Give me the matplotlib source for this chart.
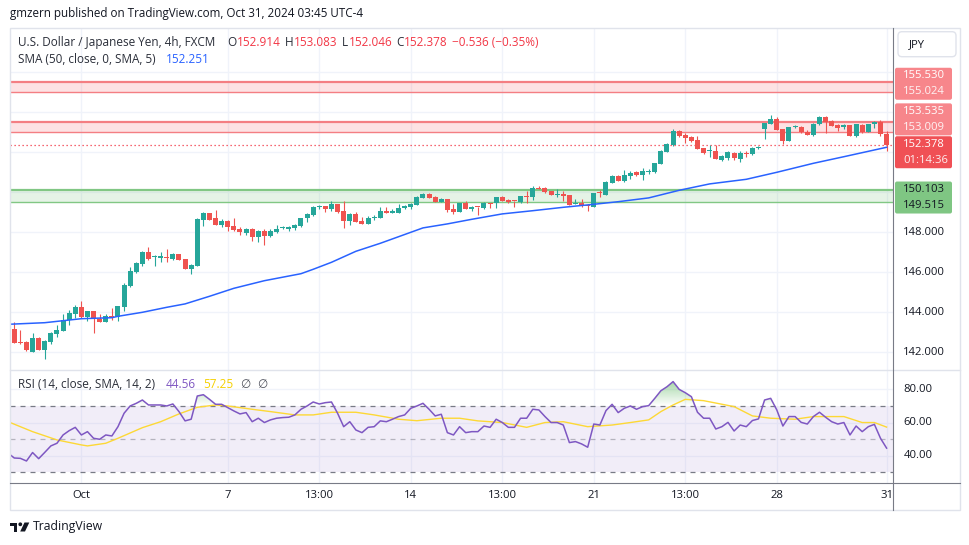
import numpy as np
import matplotlib
matplotlib.use('Agg')
import matplotlib.pyplot as plt
from matplotlib.transforms import Affine2D
from matplotlib.patches import Rectangle, FancyBboxPatch, Polygon, Circle
from matplotlib.path import Path
from matplotlib.lines import Line2D
from matplotlib.colors import LinearSegmentedColormap

plt.rcParams['font.family'] = ['Open Sans', 'DejaVu Sans']

# ---------------- data (4h candles, USD/JPY) ----------------
opens = [145.8, 143.17, 142.53, 142.52, 142.03, 142.72, 142.13, 142.53, 142.93, 143.08,
         143.60, 143.92, 144.27, 143.78, 144.07, 143.67, 143.52, 143.82, 143.75, 144.27,
         145.32, 146.03, 146.43, 147.02, 146.75, 146.74, 146.77, 146.67, 146.90, 146.67,
         146.18, 146.33, 148.63, 148.97, 148.72, 148.38, 148.57, 148.32, 148.18, 147.98,
         148.17, 147.78, 148.07, 147.82, 148.03, 148.20, 148.19, 148.20, 148.33, 148.70,
         148.88, 149.25, 149.32, 149.15, 149.42, 149.07, 148.58, 148.92, 148.57, 148.43,
         148.73, 148.73, 149.07, 148.98, 148.98, 149.20, 149.27, 149.38, 149.73, 149.92,
         149.77, 149.52, 149.67, 149.18, 149.03, 149.47, 149.18, 149.27, 149.22, 149.47,
         149.45, 149.77, 149.62, 149.57, 149.50, 149.80, 149.78, 150.22, 150.20, 150.07,
         149.88, 149.92, 149.87, 149.43, 149.47, 149.37, 149.28, 150.00, 149.88, 150.48,
         150.82, 150.58, 150.83, 151.00, 150.88, 151.03, 151.00, 151.43, 152.03, 152.37,
         153.07, 152.87, 152.77, 152.62, 152.20, 152.05, 152.07, 151.63, 151.72, 151.98,
         151.67, 151.93, 151.90, 152.20, 153.17, 153.42, 153.67, 153.17, 152.58, 153.28,
         153.25, 153.00, 152.88, 153.40, 153.77, 153.58, 153.37, 153.25, 153.37, 152.82,
         153.37, 153.02, 153.42, 153.50, 152.914]
highs = [146.5, 143.53, 143.12, 142.57, 142.95, 142.77, 142.62, 143.02, 143.37, 143.92,
         144.12, 144.38, 144.57, 144.07, 144.07, 143.92, 143.90, 144.20, 144.32, 145.47,
         146.28, 146.53, 147.07, 147.25, 146.88, 147.00, 147.17, 146.97, 146.92, 146.68,
         146.42, 148.73, 149.03, 148.98, 149.12, 148.67, 148.63, 148.72, 148.25, 148.23,
         148.20, 148.13, 148.17, 148.15, 148.35, 148.32, 148.32, 148.42, 148.73, 148.95,
         149.32, 149.38, 149.32, 149.58, 149.42, 149.57, 148.95, 149.00, 148.75, 148.82,
         148.87, 149.27, 149.25, 149.17, 149.40, 149.37, 149.47, 149.82, 149.95, 149.97,
         149.80, 149.73, 149.67, 149.40, 149.48, 149.57, 149.32, 149.28, 149.50, 149.47,
         149.77, 149.80, 149.67, 149.57, 149.83, 150.05, 150.33, 150.32, 150.27, 150.08,
         150.15, 150.08, 149.88, 149.65, 149.67, 149.43, 149.98, 150.13, 150.55, 150.88,
         150.88, 151.12, 151.08, 151.05, 151.22, 151.17, 151.48, 152.10, 152.48, 153.17,
         153.12, 152.95, 152.80, 152.82, 152.23, 152.35, 152.35, 151.87, 152.05, 152.02,
         152.07, 152.07, 152.25, 152.32, 153.48, 153.85, 153.75, 153.17, 153.28, 153.37,
         153.32, 153.13, 153.47, 153.83, 153.80, 153.63, 153.40, 153.40, 153.38, 153.42,
         153.42, 153.43, 153.58, 153.62, 153.083]
lows = [143.0, 142.45, 142.43, 142.08, 142.02, 142.12, 141.68, 142.43, 142.78, 143.07,
        143.37, 143.70, 143.73, 143.58, 142.98, 143.52, 143.50, 143.60, 143.58, 144.08,
        145.28, 145.97, 146.33, 146.62, 146.32, 146.52, 146.50, 146.63, 146.60, 146.15,
        145.93, 146.32, 148.33, 148.60, 148.37, 148.25, 148.08, 148.08, 147.88, 147.88,
        147.57, 147.52, 147.37, 147.75, 147.98, 148.15, 148.05, 148.10, 148.27, 148.53,
        148.83, 149.18, 149.03, 149.07, 148.95, 148.23, 148.37, 148.50, 148.42, 148.42,
        148.63, 148.72, 148.97, 148.97, 148.97, 149.18, 149.17, 149.37, 149.72, 149.72,
        149.50, 149.50, 149.02, 148.90, 149.00, 149.17, 149.07, 148.87, 149.18, 149.20,
        149.23, 149.57, 149.45, 149.28, 149.48, 149.48, 149.62, 150.15, 149.97, 149.85,
        149.77, 149.57, 149.35, 149.43, 149.27, 149.07, 149.25, 149.77, 149.85, 150.45,
        150.57, 150.52, 150.68, 150.83, 150.63, 150.92, 150.98, 151.42, 152.02, 152.33,
        152.78, 152.47, 152.53, 152.15, 151.92, 151.77, 151.65, 151.58, 151.63, 151.63,
        151.50, 151.75, 151.87, 152.17, 152.68, 153.40, 153.12, 152.43, 152.55, 153.20,
        152.97, 152.87, 152.83, 153.38, 152.98, 153.32, 153.08, 153.15, 152.80, 152.78,
        152.98, 153.00, 153.20, 152.83, 152.046]
closes = [143.1, 142.48, 142.48, 142.12, 142.72, 142.13, 142.57, 142.97, 143.12, 143.62,
          143.97, 144.27, 143.78, 144.07, 143.65, 143.53, 143.82, 143.75, 144.30, 145.35,
          146.07, 146.45, 147.02, 146.67, 146.78, 146.76, 146.70, 146.90, 146.62, 146.18,
          146.37, 148.68, 148.97, 148.63, 148.38, 148.57, 148.28, 148.13, 148.00, 148.18,
          147.78, 148.07, 147.82, 148.07, 148.18, 148.22, 148.21, 148.37, 148.72, 148.92,
          149.27, 149.33, 149.18, 149.42, 149.03, 148.58, 148.90, 148.53, 148.43, 148.72,
          148.75, 149.07, 148.98, 149.07, 149.23, 149.33, 149.43, 149.77, 149.92, 149.73,
          149.52, 149.67, 149.13, 149.03, 149.47, 149.18, 149.27, 149.25, 149.48, 149.40,
          149.77, 149.58, 149.52, 149.55, 149.80, 149.78, 150.22, 150.17, 150.03, 149.87,
          149.90, 149.83, 149.37, 149.48, 149.33, 149.30, 149.97, 149.98, 150.52, 150.82,
          150.58, 150.87, 150.98, 150.88, 151.07, 151.05, 151.47, 152.07, 152.42, 153.07,
          152.82, 152.72, 152.57, 152.18, 151.98, 152.08, 151.65, 151.82, 152.02, 151.73,
          151.98, 151.90, 152.20, 152.23, 153.48, 153.67, 153.13, 152.57, 153.25, 153.30,
          153.00, 152.88, 153.43, 153.77, 153.50, 153.33, 153.23, 153.37, 152.83, 153.40,
          153.00, 153.42, 153.52, 152.914, 152.378]

sma_idx = [0, 6, 12, 17, 18, 22, 26, 29, 33, 37, 42, 48, 50, 53, 57, 61, 64, 68, 72, 76,
           81, 86, 91, 96, 100, 105, 110, 115, 121, 126, 132, 137, 144]
sma_val = [143.40, 143.48, 143.68, 143.73, 143.80, 144.00, 144.25, 144.42, 144.80, 145.20,
           145.58, 145.93, 146.15, 146.50, 147.05, 147.45, 147.78, 148.22, 148.42, 148.65,
           148.92, 149.08, 149.25, 149.40, 149.53, 149.72, 150.10, 150.42, 150.65, 151.00,
           151.45, 151.78, 152.251]

rsi = [41.5, 38.6, 38.4, 36.8, 41.9, 38.2, 42.0, 45.9, 47.5, 52.5,
       55.1, 57.1, 52.5, 54.5, 50.5, 49.9, 52.5, 51.9, 57.5, 65.6,
       70.0, 71.6, 73.6, 70.6, 70.6, 70.6, 70.0, 71.2, 66.6, 61.0,
       62.0, 76.0, 76.8, 74.0, 71.0, 71.0, 69.0, 67.0, 65.2, 66.0,
       60.5, 62.6, 60.0, 61.6, 62.6, 63.0, 63.2, 64.6, 68.0, 70.0,
       72.4, 71.2, 72.0, 72.4, 65.6, 57.5, 60.5, 55.5, 53.9, 57.1,
       57.5, 61.0, 60.5, 62.0, 63.6, 64.6, 68.6, 70.0, 71.6, 68.0,
       64.0, 65.0, 53.9, 52.5, 57.5, 53.9, 54.5, 54.5, 57.9, 57.1,
       62.0, 60.0, 57.1, 57.1, 62.6, 62.6, 68.0, 67.6, 63.6, 60.0,
       60.0, 58.5, 47.9, 48.5, 47.1, 45.1, 59.1, 58.5, 67.2, 71.0,
       66.0, 68.6, 70.0, 68.0, 69.6, 70.2, 74.6, 79.2, 81.6, 84.7,
       80.0, 78.0, 75.6, 66.2, 62.6, 62.6, 56.1, 57.5, 60.1, 54.9,
       58.5, 57.5, 61.2, 62.2, 73.6, 74.6, 67.6, 57.9, 63.6, 63.6,
       60.1, 59.1, 63.6, 66.2, 63.2, 60.5, 59.1, 60.0, 52.5, 57.9,
       54.5, 57.5, 58.9, 50.5, 44.56]

rsi_ma_idx = [0, 4, 8, 12, 13, 16, 18, 22, 25, 28, 31, 34, 36, 40, 43, 47, 50, 53, 57, 60,
              64, 67, 71, 74, 77, 81, 85, 88, 91, 95, 99, 102, 105, 107, 109, 111, 114, 119,
              122, 125, 129, 132, 137, 140, 142, 144]
rsi_ma_val = [60.5, 54.5, 49.5, 46.5, 45.9, 47.5, 50.5, 56.9, 60.5, 65.2, 69.2, 70.6, 70.0,
              68.0, 66.6, 64.6, 64.6, 66.2, 66.2, 64.6, 62.0, 61.1, 62.6, 62.6, 61.0, 60.0,
              57.1, 60.0, 60.5, 57.5, 58.5, 60.0, 61.6, 66.6, 70.6, 74.0, 73.2, 69.6, 64.0,
              62.6, 62.0, 63.6, 63.6, 60.0, 60.0, 57.25]

red_zones = [(155.024, 155.530), (153.009, 153.535)]
green_zone = (149.515, 150.103)
last_price = 152.378
countdown = "01:14:36"
sma_last = 152.251
rsi_last = 44.56
rsi_ma_last = 57.25
time_tick_idx = [12, 36, 51, 66, 81, 96, 111, 126, 144]
time_tick_lbl = ['Oct', '7', '13:00', '14', '13:00', '21', '13:00', '28', '31']
price_ticks = [142, 144, 146, 148]
rsi_ticks = [80, 60, 40]

# ---------------- figure ----------------
W, H = 970, 545
fig = plt.figure(figsize=(W / 100, H / 100), dpi=100)
fig.patch.set_facecolor('white')
pix = Affine2D().scale(1 / W, -1 / H).translate(0, 1) + fig.transFigure
renderer = fig.canvas.get_renderer()

TXT = '#131722'
LEG = '#2a2e39'
GRID = '#f0f3fa'
UP, DN = '#26a69a', '#ef5350'

ax = fig.add_axes([10 / W, 1 - 370 / H, 883 / W, 342 / H])
axr = fig.add_axes([10 / W, 1 - 482.7 / H, 883 / W, 112.7 / H])

for a in (ax, axr):
    a.set_facecolor('none')
    for s in a.spines.values():
        s.set_visible(False)
    a.set_xticks(time_tick_idx)
    a.tick_params(length=0, labelbottom=False, labelleft=False)
    a.grid(True, color=GRID, lw=1)
    a.set_axisbelow(True)
ax.set_yticks(np.arange(142, 158, 2))
axr.set_yticks([40, 60, 80])

x = np.arange(len(opens))
o, h, l, c = (np.array(v) for v in (opens, highs, lows, closes))
cols = np.where(c >= o, UP, DN)

# zones
for lo, hi in red_zones:
    ax.axhspan(lo, hi, color='#f23645', alpha=0.14, lw=0, zorder=2)
    ax.axhline(hi, color='#f47e83', lw=1.6, zorder=2.2)
    ax.axhline(lo, color='#f47e83', lw=1.0, zorder=2.2)
ax.axhspan(green_zone[0], green_zone[1], color='#4caf50', alpha=0.14, lw=0, zorder=2)
ax.axhline(green_zone[1], color='#81c784', lw=1.6, zorder=2.2)
ax.axhline(green_zone[0], color='#81c784', lw=1.0, zorder=2.2)
ax.axhline(last_price, color='#f23645', lw=0.9, ls=(0, (1, 2.2)), zorder=2.3)

# candles
ax.vlines(x, l, h, colors=cols, lw=0.8, zorder=3)
ax.bar(x, np.maximum(np.abs(c - o), 0.05), bottom=np.minimum(o, c), width=0.82,
       color=cols, lw=0, zorder=4)
ax.plot(sma_idx, sma_val, color='#2962ff', lw=1.1, zorder=5)

ax.set_xlim(0.3, 145.05)
ax.set_ylim(141.115, 158.215)

# RSI pane
r = np.array(rsi)
axr.axhspan(30, 70, color='#7e57c2', alpha=0.1, lw=0, zorder=1)
axr.axhline(70, color='#787b86', lw=0.9, ls=(0, (4, 4)), zorder=2)
axr.axhline(50, color='#787b86', lw=0.9, ls=(0, (4, 4)), alpha=0.5, zorder=2)
axr.axhline(30, color='#787b86', lw=0.9, ls=(0, (4, 4)), zorder=2)
fb = axr.fill_between(x, r, 70, where=r > 70, interpolate=True, color='none', lw=0)
paths = fb.get_paths()
if paths:
    cp = Path.make_compound_path(*paths)
    grad = np.linspace(0, 1, 100).reshape(-1, 1)
    cmap = LinearSegmentedColormap.from_list(
        'g', [(0.30, 0.69, 0.31, 0.0), (0.30, 0.69, 0.31, 0.6)])
    im = axr.imshow(grad, extent=[0, len(r) - 1, 70, 88], origin='lower', aspect='auto',
                    cmap=cmap, zorder=3, interpolation='bilinear')
    im.set_clip_path(cp, transform=axr.transData)
axr.plot(rsi_ma_idx, rsi_ma_val, color='#fdd835', lw=1.0, zorder=4)
axr.plot(x, r, color='#7e57c2', lw=1.1, zorder=5)
axr.set_xlim(0.3, 145.05)
axr.set_ylim(23.7, 91.7)


# ---------------- helpers ----------------
def ypx(a, v):
    return H - a.transData.transform((0, v))[1]


def xpx(a, v):
    return a.transData.transform((v, 0))[0]


def fit(s, width, **kw):
    t = fig.text(0, 0, s, fontsize=10, transform=pix, **kw)
    w = t.get_window_extent(renderer).width
    t.remove()
    return 10 * width / w


def ftext(xp, yp, s, **kw):
    kw.setdefault('va', 'center')
    kw.setdefault('ha', 'left')
    kw.setdefault('color', TXT)
    return fig.text(xp, yp, s, transform=pix, **kw)


def run(xp, yp, pieces, fs, gap=0.0):
    """Draw text pieces one after another from xp; returns end x."""
    for s, col in pieces:
        t = ftext(xp, yp, s, fontsize=fs, color=col)
        xp += t.get_window_extent(renderer).width + gap
    return xp


def fline(xs, ys, **kw):
    fig.add_artist(Line2D(xs, ys, transform=pix, **kw))


# frame lines
fig.add_artist(Rectangle((10, 28), 950, 482, transform=pix, fill=False,
                         edgecolor='#e0e3eb', lw=1))
fline([10, 960], [370, 370], color='#e0e3eb', lw=1)
fline([893.5, 893.5], [28, 510], color='#787b86', lw=0.8)
fline([10, 960], [482.7, 482.7], color='#787b86', lw=0.8)

fs_leg = fit('U.S. Dollar / Japanese Yen, 4h, FXCM', 198)
fs_head = fit('gmzern published on TradingView.com, Oct 31, 2024 03:45 UTC-4', 351)
fs_ax = fit('148.000', 41.7)
fs_foot = fit('TradingView', 70)

# header
ftext(10, 14, 'gmzern published on TradingView.com, Oct 31, 2024 03:45 UTC-4',
      fontsize=fs_head)

# legend line 1
RED = '#f23645'
ftext(18.3, 42.3, 'U.S. Dollar / Japanese Yen, 4h, FXCM', fontsize=fs_leg, color=LEG)
last = len(opens) - 1
for lab, xl, val in [('O', 227.5, opens[last]), ('H', 284.5, highs[last]),
                     ('L', 342.0, lows[last]), ('C', 396.5, closes[last])]:
    run(xl, 42.3, [(lab, LEG), (f'{val:.3f}', RED)], fs_leg, gap=0.3)
chg = closes[last] - opens[last]
pct = chg / opens[last] * 100
ftext(452, 42.3, f'\u2212{abs(chg):.3f} (\u2212{abs(pct):.2f}%)', fontsize=fs_leg, color=RED)
# legend line 2
ftext(18.3, 59.3, 'SMA (50, close, 0, SMA, 5)', fontsize=fs_leg, color=LEG)
ftext(165.7, 59.3, f'{sma_last:.3f}', fontsize=fs_leg, color='#2962ff')
# RSI legend
ftext(18.3, 385, 'RSI (14, close, SMA, 14, 2)', fontsize=fs_leg, color=LEG)
ftext(165.7, 385, f'{rsi_last:.2f}', fontsize=fs_leg, color='#7e57c2')
ftext(202.7, 385, f'{rsi_ma_last:.2f}', fontsize=fs_leg, color='#f5d000')
ftext(240, 385, '\u2205', fontsize=fs_leg, color='#50535e')
ftext(256.7, 385, '\u2205', fontsize=fs_leg, color='#50535e')

# JPY button
fig.add_artist(FancyBboxPatch((898, 31.7), 58, 25, boxstyle='round,pad=0,rounding_size=4',
                              transform=pix, facecolor='white', edgecolor='#e0e3eb', lw=1))
ftext(916.7, 44.5, 'JPY', fontsize=fs_ax, ha='center')

# price axis tick labels
for p in price_ticks:
    ftext(903.3, ypx(ax, p), f'{p:.3f}', fontsize=fs_ax)
for v in rsi_ticks:
    ftext(903.3, ypx(axr, v), f'{v:.2f}', fontsize=fs_ax)

# price label boxes (stacked)
groups = [
    ([f'{red_zones[0][1]:.3f}', f'{red_zones[0][0]:.3f}'],
     (ypx(ax, red_zones[0][1]) + ypx(ax, red_zones[0][0])) / 2 - 3.0, '#f7868b', 'white'),
    ([f'{red_zones[1][1]:.3f}', f'{red_zones[1][0]:.3f}'],
     (ypx(ax, red_zones[1][1]) + ypx(ax, red_zones[1][0])) / 2 - 7.5, '#f7868b', 'white'),
    ([f'{last_price:.3f}', countdown], ypx(ax, last_price) + 7.5, '#f05055', 'white'),
    ([f'{green_zone[1]:.3f}', f'{green_zone[0]:.3f}'],
     (ypx(ax, green_zone[1]) + ypx(ax, green_zone[0])) / 2 + 1.4, '#7fc683', TXT),
]
for texts, cy, fc, tc in groups:
    fig.add_artist(FancyBboxPatch((895, cy - 16), 57, 32,
                                  boxstyle='round,pad=0,rounding_size=2',
                                  transform=pix, facecolor=fc, edgecolor='none'))
    ftext(903.3, cy - 8.2, texts[0], fontsize=fs_ax, color=tc)
    ftext(903.3, cy + 8.2, texts[1], fontsize=fs_ax, color=tc,
          alpha=0.9 if tc == 'white' else 1)

# time axis labels
for i, lbl in zip(time_tick_idx, time_tick_lbl):
    ftext(xpx(axr, i), 496, lbl, fontsize=fs_ax, ha='center')

# footer logo + name
fig.add_artist(Polygon([(10, 522.5), (17.5, 522.5), (17.5, 531.5), (13.8, 531.5),
                        (13.8, 526.2), (10, 526.2)], closed=True, transform=pix,
                       facecolor=TXT, edgecolor='none'))
fig.add_artist(Circle((20.3, 524.3), 1.9, transform=pix, facecolor=TXT, edgecolor='none'))
fig.add_artist(Polygon([(24.5, 522.5), (29.3, 522.5), (25.0, 531.5), (20.2, 531.5)],
                       closed=True, transform=pix, facecolor=TXT, edgecolor='none'))
ftext(33.3, 526.7, 'TradingView', fontsize=fs_foot)

fig.savefig('out.png', dpi=100, facecolor='white')
